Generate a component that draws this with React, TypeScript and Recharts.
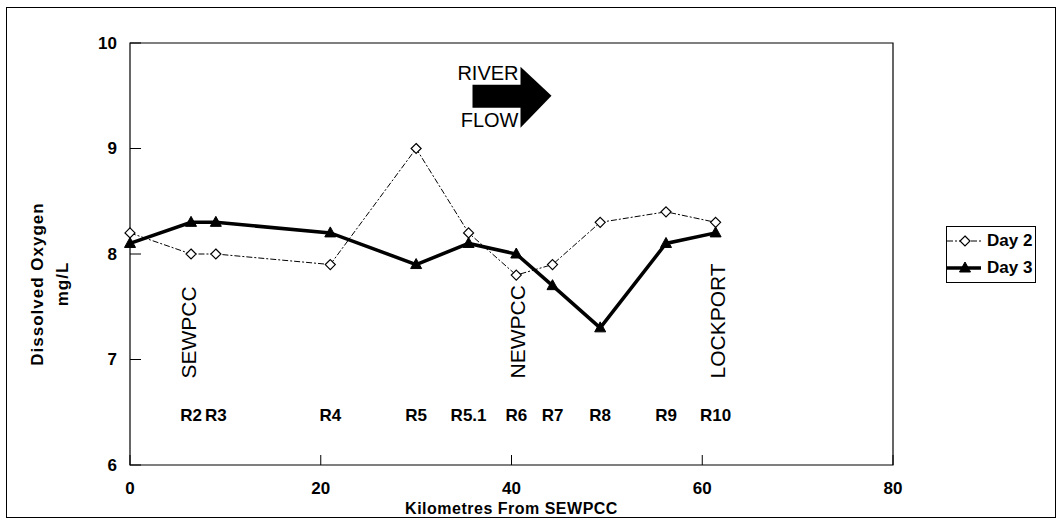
import React from 'react';
import {
  ComposedChart,
  Line,
  Scatter,
  XAxis,
  YAxis,
  ReferenceArea,
  ReferenceDot,
  Label,
} from 'recharts';

// distance downstream (km) of each sampling station
const stationKm = [0, 6.4, 9, 21, 30, 35.5, 40.5, 44.3, 49.3, 56.2, 61.4];
const stationNames = ['', 'R2', 'R3', 'R4', 'R5', 'R5.1', 'R6', 'R7', 'R8', 'R9', 'R10'];
const day2 = [8.2, 8.0, 8.0, 7.9, 9.0, 8.2, 7.8, 7.9, 8.3, 8.4, 8.3];
const day3 = [8.1, 8.3, 8.3, 8.2, 7.9, 8.1, 8.0, 7.7, 7.3, 8.1, 8.2];

// treatment plants / landmarks written vertically on the plot
const siteNames = ['SEWPCC', 'NEWPCC', 'LOCKPORT'];
const siteKm = [6.1, 40.6, 61.6];

const xTicks = [0, 20, 40, 60, 80];
const yTicks = [6, 7, 8, 9, 10];

const day2Data = stationKm.map((km, i) => ({ km, value: day2[i] }));
const day3Data = stationKm.map((km, i) => ({ km, value: day3[i] }));
const stationLabels = stationKm
  .map((km, i) => ({ km, value: 6.47, name: stationNames[i] }))
  .filter((d) => d.name !== '');
const siteLabels = siteNames.map((name, i) => ({ km: siteKm[i], value: 6.82, name }));

const FONT = '"Liberation Sans", Arial, sans-serif';
const W = 1048;
const H = 509;
const MARGIN = { top: 35, right: 162, bottom: 22, left: 73 };
const Y_WIDTH = 50;
const X_HEIGHT = 30;
const PLOT_LEFT = MARGIN.left + Y_WIDTH;
const PLOT_BOTTOM = H - MARGIN.bottom - X_HEIGHT;

const Diamond = ({ cx, cy }: any) => (
  <path
    d={`M${cx},${cy - 5} L${cx + 5},${cy} L${cx},${cy + 5} L${cx - 5},${cy} Z`}
    fill="#fff"
    stroke="#000"
    strokeWidth={1.2}
  />
);

const Triangle = ({ cx, cy }: any) => (
  <path
    d={`M${cx},${cy - 6} L${cx + 5.5},${cy + 4} L${cx - 5.5},${cy + 4} Z`}
    fill="#000"
    stroke="#000"
  />
);

// ticks point inwards, so draw them with the label
const YTick = ({ y, payload }: any) => (
  <g>
    <line x1={PLOT_LEFT} x2={PLOT_LEFT + 11} y1={y} y2={y} stroke="#000" />
    <text
      x={PLOT_LEFT - 13}
      y={y}
      textAnchor="end"
      dominantBaseline="central"
      fontFamily={FONT}
      fontWeight="bold"
      fontSize={17}
      fill="#000"
    >
      {payload.value}
    </text>
  </g>
);

const XTick = ({ x, payload }: any) => (
  <g>
    <line x1={x} x2={x} y1={PLOT_BOTTOM} y2={PLOT_BOTTOM - 10} stroke="#000" />
    <text
      x={x}
      y={PLOT_BOTTOM + 23}
      textAnchor="middle"
      dominantBaseline="central"
      fontFamily={FONT}
      fontWeight="bold"
      fontSize={17}
      fill="#000"
    >
      {payload.value}
    </text>
  </g>
);

const StationText = ({ cx, cy, payload }: any) => (
  <text
    x={cx}
    y={cy}
    textAnchor="middle"
    dominantBaseline="central"
    fontFamily={FONT}
    fontWeight="bold"
    fontSize={17}
    fill="#000"
  >
    {payload.name}
  </text>
);

const SiteText = ({ cx, cy, payload }: any) => (
  <text
    x={cx}
    y={cy}
    transform={`rotate(-90 ${cx} ${cy})`}
    textAnchor="start"
    dominantBaseline="central"
    fontFamily={FONT}
    fontSize={21}
    fill="#000"
  >
    {payload.name}
  </text>
);

const FlowArrow = ({ cx, cy }: any) => (
  <g>
    <rect x={cx - 39} y={cy - 11} width={49} height={23} fill="#000" />
    <path d={`M${cx + 9},${cy - 29} L${cx + 40},${cy} L${cx + 9},${cy + 32} Z`} fill="#000" />
    <text x={cx + 7} y={cy - 16} textAnchor="end" fontFamily={FONT} fontSize={20} fill="#000">
      RIVER
    </text>
    <text x={cx + 7} y={cy + 31} textAnchor="end" fontFamily={FONT} fontSize={20} fill="#000">
      FLOW
    </text>
  </g>
);

const legendItems = [
  { name: 'Day 2', thick: false },
  { name: 'Day 3', thick: true },
];

const LegendBox = () => (
  <div
    style={{
      position: 'absolute',
      left: 939,
      top: 218,
      width: 88,
      height: 55,
      border: '1.5px solid #000',
      fontFamily: FONT,
      fontWeight: 'bold',
      fontSize: 17,
      overflow: 'hidden',
      background: '#fff',
    }}
  >
    {legendItems.map((item) => (
      <div key={item.name} style={{ display: 'flex', alignItems: 'center', height: 27 }}>
        <svg width={40} height={20} style={{ flexShrink: 0 }}>
          <line
            x1={0}
            x2={34}
            y1={10}
            y2={10}
            stroke="#000"
            strokeWidth={item.thick ? 3.5 : 1}
            strokeDasharray={item.thick ? undefined : '6 2 2 2'}
          />
          {item.thick ? <Triangle cx={18} cy={10} /> : <Diamond cx={18} cy={10} />}
        </svg>
        <span style={{ whiteSpace: 'nowrap' }}>{item.name}</span>
      </div>
    ))}
  </div>
);

const App = () => {
  return (
    <div
      style={{
        position: 'absolute',
        left: 6,
        top: 7,
        width: W,
        height: H,
        border: '1px solid #000',
        background: '#fff',
      }}
    >
      <ComposedChart width={W} height={H} margin={MARGIN}>
        <XAxis
          dataKey="km"
          type="number"
          domain={[0, 80]}
          ticks={xTicks}
          height={X_HEIGHT}
          axisLine={false}
          tickLine={false}
          tick={<XTick />}
          interval={0}
        >
          <Label
            content={({ viewBox }: any) => (
              <text
                x={viewBox.x + viewBox.width / 2}
                y={viewBox.y + 43}
                textAnchor="middle"
                dominantBaseline="central"
                fontFamily={FONT}
                fontWeight="bold"
                fontSize={16}
                letterSpacing={0.5}
                fill="#000"
              >
                Kilometres From SEWPCC
              </text>
            )}
          />
        </XAxis>
        <YAxis
          dataKey="value"
          type="number"
          domain={[6, 10]}
          ticks={yTicks}
          width={Y_WIDTH}
          axisLine={false}
          tickLine={false}
          tick={<YTick />}
          interval={0}
        >
          <Label
            content={({ viewBox }: any) => {
              const cy = viewBox.y + viewBox.height / 2 + 30;
              return (
                <g fontFamily={FONT} fontWeight="bold" fontSize={17} letterSpacing={1} fill="#000">
                  <text
                    x={viewBox.x - 43}
                    y={cy}
                    transform={`rotate(-90 ${viewBox.x - 43} ${cy})`}
                    textAnchor="middle"
                    dominantBaseline="central"
                  >
                    Dissolved Oxygen
                  </text>
                  <text
                    x={viewBox.x - 18}
                    y={cy}
                    transform={`rotate(-90 ${viewBox.x - 18} ${cy})`}
                    textAnchor="middle"
                    dominantBaseline="central"
                  >
                    mg/L
                  </text>
                </g>
              );
            }}
          />
        </YAxis>
        <ReferenceArea x1={0} x2={80} y1={6} y2={10} fill="none" stroke="#000" strokeWidth={1.2} />
        <ReferenceDot x={40} y={9.5} r={0} shape={<FlowArrow />} />
        <Scatter
          name="stations"
          data={stationLabels}
          dataKey="value"
          shape={<StationText />}
          legendType="none"
          isAnimationActive={false}
        />
        <Scatter
          name="sites"
          data={siteLabels}
          dataKey="value"
          shape={<SiteText />}
          legendType="none"
          isAnimationActive={false}
        />
        <Line
          name="Day 2"
          data={day2Data}
          dataKey="value"
          stroke="#000"
          strokeWidth={1}
          strokeDasharray="6 2 2 2"
          dot={(p: any) => <Diamond key={`d2-${p.index}`} cx={p.cx} cy={p.cy} />}
          isAnimationActive={false}
        />
        <Line
          name="Day 3"
          data={day3Data}
          dataKey="value"
          stroke="#000"
          strokeWidth={3.5}
          dot={(p: any) => <Triangle key={`d3-${p.index}`} cx={p.cx} cy={p.cy} />}
          isAnimationActive={false}
        />
      </ComposedChart>
      <LegendBox />
    </div>
  );
};

export default App;
